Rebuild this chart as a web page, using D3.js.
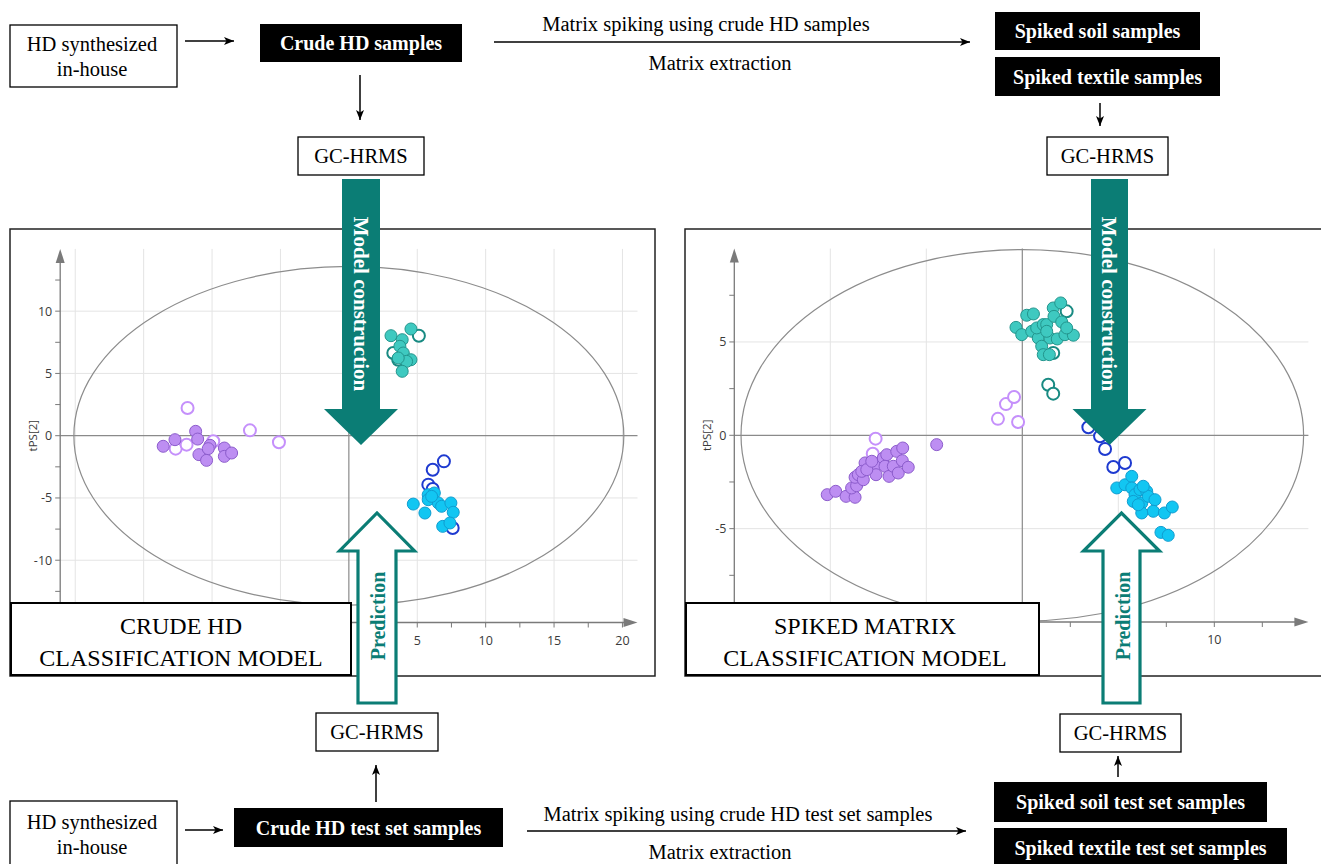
<!DOCTYPE html>
<html>
<head>
<meta charset="utf-8">
<script src="https://cdn.jsdelivr.net/npm/d3@7"></script>
<style>
  body { margin: 0; background: #fff; }
  svg { display: block; }
</style>
</head>
<body>
<svg id="fig" width="1321" height="864"></svg>
<script>
// ---- Score data: crude HD classification model (tPS[1] vs tPS[2]) ----
const crudePurpleTrain = [[-13.57,-0.85],[-12.71,-0.32],[-11.2,0.35],[-11.05,-0.27],[-10.96,-1.52],[-10.4,-1.98],[-10.15,-0.77],[-10.28,-1.04],[-9.1,-0.99],[-9.1,-1.66],[-8.57,-1.39]];
const crudePurpleTest  = [[-11.79,2.22],[-12.66,-1.04],[-11.86,-0.72],[-9.91,-0.45],[-7.23,0.43],[-5.11,-0.53]];
const crudeTealTrain   = [[3.08,8.03],[4.54,8.57],[3.9,7.71],[3.73,7.18],[3.98,6.64],[4.54,6.1],[4.22,5.97],[3.9,5.17],[3.61,6.24]];
const crudeTealTest    = [[5.12,8.03],[3.25,6.64],[3.61,6.1]];
const crudeCyanTrain   = [[4.71,-5.49],[5.56,-6.21],[5.8,-4.74],[6.25,-4.6],[5.8,-5.14],[6.54,-5.4],[6.78,-5.67],[7.46,-5.4],[7.63,-6.15],[6.86,-7.28],[7.39,-7.01],[6.05,-4.87]];
const crudeCyanTest    = [[6.95,-2.06],[6.13,-2.73],[5.81,-3.93],[6.13,-4.28],[7.59,-7.41]];

// ---- Score data: spiked matrix classification model ----
const spikedPurpleTrain = [[-10.16,-3.18],[-9.72,-3.0],[-9.18,-3.27],[-8.71,-3.32],[-8.89,-2.82],[-8.63,-2.7],[-8.71,-2.25],[-8.54,-2.11],[-8.28,-2.38],[-8.19,-1.48],[-8.36,-1.93],[-7.67,-1.66],[-7.62,-2.11],[-7.24,-1.22],[-7.06,-1.04],[-7.15,-1.66],[-6.94,-2.2],[-6.72,-1.66],[-6.54,-0.86],[-6.23,-0.68],[-6.25,-1.36],[-6.46,-2.02],[-5.94,-1.71],[-4.46,-0.5],[-8.1,-1.84],[-7.84,-1.39]];
const spikedPurpleTest  = [[-7.64,-0.18],[-7.79,-0.99],[-1.27,0.88],[-0.85,1.67],[-0.43,2.05],[-0.22,0.71]];
const spikedTealTrain   = [[-0.33,5.78],[-0.03,5.39],[0.23,6.43],[0.58,6.5],[0.49,5.57],[0.83,5.21],[0.75,5.75],[1.09,5.93],[1.27,5.93],[1.01,4.77],[1.09,4.32],[1.41,4.32],[1.61,6.82],[2.0,7.09],[1.65,6.37],[2.05,6.07],[1.44,5.21],[1.82,5.16],[2.22,5.39],[2.66,5.36],[1.27,5.57],[2.31,5.75]];
const spikedTealTest    = [[2.31,6.64],[1.61,4.41],[1.35,2.71],[1.61,2.23]];
const spikedCyanTrain   = [[4.92,-2.82],[5.35,-2.65],[5.7,-2.2],[5.7,-2.82],[5.87,-3.18],[6.13,-2.91],[6.48,-3.0],[5.78,-3.54],[6.22,-3.63],[6.56,-3.27],[6.91,-3.45],[6.82,-4.07],[6.22,-4.16],[7.4,-4.16],[7.81,-3.84],[7.22,-5.2],[7.6,-5.36],[6.3,-2.73],[6.04,-3.72]];
const spikedCyanTest    = [[3.44,0.43],[4.05,-0.05],[4.31,-0.73],[4.74,-1.7],[5.35,-1.48]];

// ---- Axis tick labels (those left uncovered by the title boxes and arrows) ----
const crudeXLabels  = [5,10,15,20];
const crudeYLabels  = [-10,-5,0,5,10];
const spikedXLabels = [10];
const spikedYLabels = [-5,0,5];
const axisTitleY    = "tPS[2]";

// ---- Workflow texts ----
const modelTitles   = [["CRUDE HD","CLASSIFICATION MODEL"],["SPIKED MATRIX","CLASSIFICATION MODEL"]];
const sourceLines   = ["HD synthesized","in-house"];
const instrument    = "GC-HRMS";
const trainSteps    = ["Crude HD samples","Spiked soil samples","Spiked textile samples"];
const testSteps     = ["Crude HD test set samples","Spiked soil test set samples","Spiked textile test set samples"];
const trainSpiking  = "Matrix spiking using crude HD samples";
const testSpiking   = "Matrix spiking using crude HD test set samples";
const extraction    = "Matrix extraction";
const arrowLabels   = ["Model construction","Prediction"];

// ---- Styles ----
const serif = "'Liberation Serif','Times New Roman',serif";
const sans  = "'Open Sans','Noto Sans',sans-serif";
const teal  = "#0b7d75";
const styles = {
  purple: {fill:"#bd8ef2", stroke:"#8c5ccc", open:"#c590fb"},
  teal:   {fill:"#3ec9c0", stroke:"#23958d", open:"#188a82"},
  cyan:   {fill:"#12c6f2", stroke:"#109dd0", open:"#1e3ad0"}
};

const svg = d3.select("#fig");
const defs = svg.append("defs");
defs.append("marker").attr("id","ah").attr("viewBox","0 0 10 10")
  .attr("refX",10).attr("refY",5).attr("markerWidth",10).attr("markerHeight",10)
  .attr("markerUnits","userSpaceOnUse").attr("orient","auto")
  .append("path").attr("d","M0,1 L10,5 L0,9 L2.5,5 Z").attr("fill","#000");

// ---------- Score plot panel ----------
function drawPanel(cfg) {
  const clipId = cfg.id + "-clip";
  defs.append("clipPath").attr("id", clipId).append("rect")
    .attr("x", cfg.frame.x).attr("y", cfg.frame.y).attr("width", cfg.frame.w).attr("height", cfg.frame.h);
  const g = svg.append("g").attr("clip-path", `url(#${clipId})`);
  g.append("rect").attr("x", cfg.frame.x).attr("y", cfg.frame.y)
    .attr("width", cfg.frame.w).attr("height", cfg.frame.h).attr("fill", "#fff");

  const x = d3.scaleLinear().domain(cfg.xDomain).range(cfg.xRange);
  const y = d3.scaleLinear().domain(cfg.yDomain).range(cfg.yRange);
  const [x0, x1] = cfg.xRange, [yb, yt] = cfg.yRange;

  // ticks every 2.5, grid lines on multiples of 5
  const xt = d3.range(cfg.xTickRange[0], cfg.xTickRange[1] + 0.01, 2.5);
  const yTk = d3.range(cfg.yTickRange[0], cfg.yTickRange[1] + 0.01, 2.5);
  const xGrid = xt.filter(d => d % 5 === 0 && d !== 0);
  const yGrid = yTk.filter(d => d % 5 === 0 && d !== 0);

  g.selectAll(null).data(xGrid).join("line")
    .attr("x1", d => x(d)).attr("x2", d => x(d)).attr("y1", yt).attr("y2", yb)
    .attr("stroke", "#e4e4e4").attr("stroke-width", 1);
  g.selectAll(null).data(yGrid).join("line")
    .attr("y1", d => y(d)).attr("y2", d => y(d)).attr("x1", x0).attr("x2", x1)
    .attr("stroke", "#e4e4e4").attr("stroke-width", 1);
  // zero lines
  g.append("line").attr("x1", x(0)).attr("x2", x(0)).attr("y1", yt).attr("y2", yb)
    .attr("stroke", "#8a8a8a").attr("stroke-width", 1.2);
  g.append("line").attr("y1", y(0)).attr("y2", y(0)).attr("x1", x0).attr("x2", x1)
    .attr("stroke", "#8a8a8a").attr("stroke-width", 1.2);

  // Hotelling T2 ellipse
  g.append("ellipse").attr("cx", x(0)).attr("cy", y(0))
    .attr("rx", x(cfg.ellipse[0]) - x(0)).attr("ry", y(0) - y(cfg.ellipse[1]))
    .attr("fill", "none").attr("stroke", "#8c8c8c").attr("stroke-width", 1.2);

  // axes
  const axisCol = "#7a7a7a";
  g.append("line").attr("x1", x0).attr("x2", x1 - 10).attr("y1", yb).attr("y2", yb)
    .attr("stroke", axisCol).attr("stroke-width", 1.3);
  g.append("path").attr("d", `M${x1},${yb} L${x1-14},${yb-4.5} L${x1-14},${yb+4.5} Z`).attr("fill", axisCol);
  g.append("line").attr("x1", x0).attr("x2", x0).attr("y1", yb + 30).attr("y2", yt + 10)
    .attr("stroke", axisCol).attr("stroke-width", 1.3);
  g.append("path").attr("d", `M${x0},${yt} L${x0-4.5},${yt+14} L${x0+4.5},${yt+14} Z`).attr("fill", axisCol);

  g.selectAll(null).data(xt).join("line")
    .attr("x1", d => x(d)).attr("x2", d => x(d)).attr("y1", yb).attr("y2", yb + 5)
    .attr("stroke", axisCol).attr("stroke-width", 1);
  g.selectAll(null).data(yTk).join("line")
    .attr("y1", d => y(d)).attr("y2", d => y(d)).attr("x1", x0 - 5).attr("x2", x0)
    .attr("stroke", axisCol).attr("stroke-width", 1);

  g.selectAll(null).data(cfg.xLabels).join("text")
    .attr("x", d => x(d)).attr("y", yb + 22).attr("text-anchor", "middle")
    .attr("font-family", sans).attr("font-size", 12.5).attr("fill", "#3a3a3a").text(d => d);
  g.selectAll(null).data(cfg.yLabels).join("text")
    .attr("x", x0 - 8).attr("y", d => y(d) + 4.5).attr("text-anchor", "end")
    .attr("font-family", sans).attr("font-size", 12.5).attr("fill", "#3a3a3a").text(d => d);
  g.append("text").attr("transform", `translate(${x0 - 27},${y(0)}) rotate(-90)`)
    .attr("text-anchor", "middle").attr("dy", "0.35em")
    .attr("font-family", sans).attr("font-size", 11.5).attr("fill", "#3a3a3a").text(axisTitleY);

  // points: test-set samples (open) first, training samples (filled) on top
  cfg.series.forEach(s => {
    const st = styles[s.cls];
    g.selectAll(null).data(s.pts).join("circle")
      .attr("cx", d => x(d[0])).attr("cy", d => y(d[1])).attr("r", 6)
      .attr("fill", s.open ? "#fff" : st.fill)
      .attr("stroke", s.open ? st.open : st.stroke)
      .attr("stroke-width", s.open ? 2 : 1);
  });

  // frame
  svg.append("rect").attr("x", cfg.frame.x).attr("y", cfg.frame.y)
    .attr("width", cfg.frame.w).attr("height", cfg.frame.h)
    .attr("fill", "none").attr("stroke", "#222").attr("stroke-width", 1.5);
}

drawPanel({
  id: "crude", frame: {x: 10, y: 229, w: 645, h: 447},
  xDomain: [-21.1, 21.1], xRange: [60.2, 637.5],
  yDomain: [-15, 15], yRange: [622.5, 248.9],
  xTickRange: [-20, 20], yTickRange: [-12.5, 12.5],
  xLabels: crudeXLabels, yLabels: crudeYLabels, ellipse: [20.1, 13.6],
  series: [
    {cls: "purple", open: true, pts: crudePurpleTest},
    {cls: "teal", open: true, pts: crudeTealTest},
    {cls: "cyan", open: true, pts: crudeCyanTest},
    {cls: "purple", open: false, pts: crudePurpleTrain},
    {cls: "teal", open: false, pts: crudeTealTrain},
    {cls: "cyan", open: false, pts: crudeCyanTrain}
  ]
});

drawPanel({
  id: "spiked", frame: {x: 685, y: 229, w: 650, h: 447},
  xDomain: [-15, 14.9], xRange: [734.3, 1308.4],
  yDomain: [-10, 10], yRange: [622, 248.6],
  xTickRange: [-12.5, 12.5], yTickRange: [-7.5, 7.5],
  xLabels: spikedXLabels, yLabels: spikedYLabels, ellipse: [14.65, 9.95],
  series: [
    {cls: "purple", open: true, pts: spikedPurpleTest},
    {cls: "teal", open: true, pts: spikedTealTest},
    {cls: "cyan", open: true, pts: spikedCyanTest},
    {cls: "purple", open: false, pts: spikedPurpleTrain},
    {cls: "teal", open: false, pts: spikedTealTrain},
    {cls: "cyan", open: false, pts: spikedCyanTrain}
  ]
});

// ---------- Model title boxes ----------
function titleBox(x, y, w, h, lines, cx) {
  svg.append("rect").attr("x", x).attr("y", y).attr("width", w).attr("height", h)
    .attr("fill", "#fff").attr("stroke", "#000").attr("stroke-width", 2);
  lines.forEach((t, i) => {
    svg.append("text").attr("x", cx).attr("y", y + 23 + i * 32).attr("dy", "0.35em")
      .attr("text-anchor", "middle").attr("font-family", serif).attr("font-size", 24)
      .attr("fill", "#000").text(t);
  });
}
titleBox(11, 603, 340, 72, modelTitles[0], 181);
titleBox(686, 603, 353, 72, modelTitles[1], 865);

// ---------- Big workflow arrows ----------
function downArrow(cx, top, sh, hh, base, tip, label) {
  svg.append("path")
    .attr("d", `M${cx-sh},${top} L${cx+sh},${top} L${cx+sh},${base} L${cx+hh},${base} L${cx},${tip} L${cx-hh},${base} L${cx-sh},${base} Z`)
    .attr("fill", teal);
  svg.append("text").attr("transform", `translate(${cx},${(top + base) / 2 + 10}) rotate(90)`)
    .attr("text-anchor", "middle").attr("dy", "0.35em")
    .attr("font-family", serif).attr("font-weight", "bold").attr("font-size", 21)
    .attr("fill", "#fff").text(label);
}
function upArrow(cx, bottom, sh, hh, base, tip, label, ly) {
  svg.append("path")
    .attr("d", `M${cx-sh},${bottom} L${cx-sh},${base} L${cx-hh},${base} L${cx},${tip} L${cx+hh},${base} L${cx+sh},${base} L${cx+sh},${bottom} Z`)
    .attr("fill", "#fff").attr("stroke", teal).attr("stroke-width", 3.2).attr("stroke-linejoin", "miter");
  svg.append("text").attr("transform", `translate(${cx + 1},${ly}) rotate(-90)`)
    .attr("text-anchor", "middle").attr("dy", "0.35em")
    .attr("font-family", serif).attr("font-weight", "bold").attr("font-size", 20)
    .attr("fill", teal).text(label);
}
downArrow(361, 179, 19, 37, 409, 445, arrowLabels[0]);
downArrow(1109.5, 179, 18.5, 37, 409, 445, arrowLabels[0]);
upArrow(377, 703, 19, 37.5, 551, 513, arrowLabels[1], 616);
upArrow(1121.5, 703, 18.5, 38, 551, 513, arrowLabels[1], 616);

// ---------- Workflow boxes and connectors ----------
function whiteBox(x, y, w, h, lines, cx, cy, lh) {
  svg.append("rect").attr("x", x).attr("y", y).attr("width", w).attr("height", h)
    .attr("fill", "#fff").attr("stroke", "#000").attr("stroke-width", 1.3);
  lines.forEach((t, i) => {
    svg.append("text").attr("x", cx).attr("y", cy + i * (lh || 0)).attr("dy", "0.35em")
      .attr("text-anchor", "middle").attr("font-family", serif).attr("font-size", 20.5)
      .attr("fill", "#000").text(t);
  });
}
function blackBox(x, y, w, h, label) {
  svg.append("rect").attr("x", x).attr("y", y).attr("width", w).attr("height", h).attr("fill", "#000");
  svg.append("text").attr("x", x + w / 2).attr("y", y + h / 2).attr("dy", "0.35em")
    .attr("text-anchor", "middle").attr("font-family", serif).attr("font-weight", "bold")
    .attr("font-size", 20).attr("fill", "#fff").text(label);
}
function connector(x1, y1, x2, y2) {
  svg.append("line").attr("x1", x1).attr("y1", y1).attr("x2", x2).attr("y2", y2)
    .attr("stroke", "#000").attr("stroke-width", 1.5).attr("marker-end", "url(#ah)");
}
function plainText(t, cx, cy) {
  svg.append("text").attr("x", cx).attr("y", cy).attr("dy", "0.35em")
    .attr("text-anchor", "middle").attr("font-family", serif).attr("font-size", 20.5)
    .attr("fill", "#000").text(t);
}

// training set row
whiteBox(10, 25, 167, 62, sourceLines, 92, 44, 25);
connector(185, 41, 234, 41);
blackBox(260, 24, 202, 38, trainSteps[0]);
connector(360, 75, 360, 120);
whiteBox(298, 137, 126, 38, [instrument], 361, 156);
connector(494, 42, 970, 42);
plainText(trainSpiking, 706, 24);
plainText(extraction, 720, 63);
blackBox(995, 12, 205, 38, trainSteps[1]);
blackBox(995, 57, 225, 39, trainSteps[2]);
connector(1100, 103, 1100, 126);
whiteBox(1047, 137, 121, 38, [instrument], 1107.5, 156);

// test set row
whiteBox(316, 713, 122, 38, [instrument], 377, 732);
connector(376, 802, 376, 765);
whiteBox(10, 801, 167, 80, sourceLines, 92, 822, 25);
connector(185, 830, 223, 830);
blackBox(234, 808, 269, 39, testSteps[0]);
connector(527, 831, 966, 831);
plainText(testSpiking, 738, 814);
plainText(extraction, 720, 852);
whiteBox(1060, 714, 121, 38, [instrument], 1120.5, 733);
connector(1118, 777, 1118, 756);
blackBox(994, 782, 273, 40, testSteps[1]);
blackBox(994, 828, 293, 40, testSteps[2]);
</script>
</body>
</html>
